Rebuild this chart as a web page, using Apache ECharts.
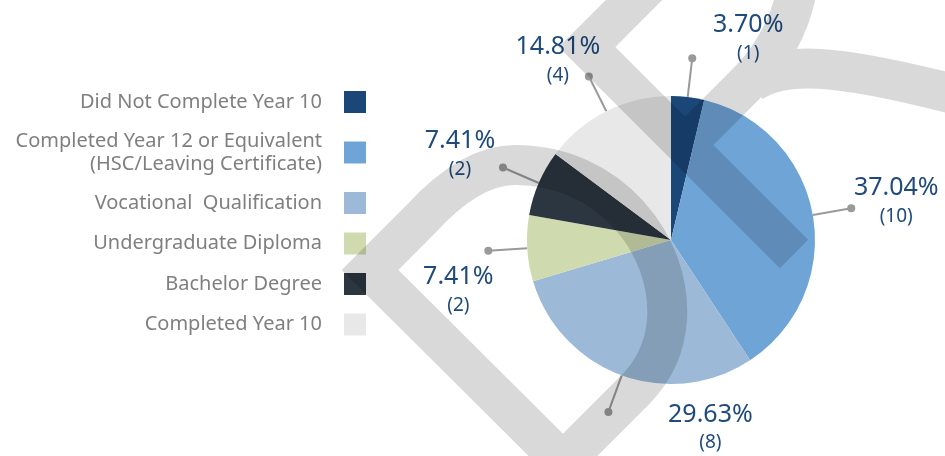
<!DOCTYPE html>
<html>
<head>
<meta charset="utf-8">
<script src="https://cdn.jsdelivr.net/npm/echarts@6/dist/echarts.min.js"></script>
<style>
  html, body { margin: 0; padding: 0; background: #fff; }
  #main { width: 945px; height: 456px; }
</style>
</head>
<body>
<div id="main"></div>
<script>
const categories = [
  'Did Not Complete Year 10',
  'Completed Year 12 or Equivalent\n(HSC/Leaving Certificate)',
  'Vocational  Qualification',
  'Undergraduate Diploma',
  'Bachelor Degree',
  'Completed Year 10'
]
const counts = [1, 10, 8, 2, 2, 4]
const colors = ['#1b4678', '#6fa4d7', '#9cbad8', '#cfdbae', '#2c3640', '#e8e8e8']

const FONT = "'Noto Sans', sans-serif"
const LABEL_COLOR = '#1f4a7c'
const LINE_COLOR = '#9a9a9a'

// where each text block sits relative to the dot at the end of its guide line
const labelOffsets = [[56, -20], [45, -7], [102, 16], [-30, 40], [-43, -13], [-31, -16]]

// the grey logo watermark laid over the chart
const Watermark = echarts.graphic.extendShape({
  shape: {},
  buildPath(ctx) {
    // chevron and diagonal bar
    ctx.moveTo(680, -46)
    ctx.lineTo(587, 47)
    ctx.lineTo(794, 254)
    // rising arm
    ctx.moveTo(688, 142)
    ctx.lineTo(745, 85)
    ctx.quadraticCurveTo(800, 30, 800, -45)
    // sweep to the right, starting inside the arm
    ctx.moveTo(752, 82)
    ctx.bezierCurveTo(785, 62, 830, 62, 965, 97)
    // loop on the left
    ctx.moveTo(370, 270)
    ctx.lineTo(420, 220)
    ctx.quadraticCurveTo(470, 165, 515, 165)
    ctx.bezierCurveTo(610, 165, 672, 245, 667, 320)
    ctx.quadraticCurveTo(664, 360, 636, 389)
    ctx.lineTo(563, 462)
    ctx.closePath()
  }
})
echarts.graphic.registerShape('watermark', Watermark)

const chart = echarts.init(document.getElementById('main'))

const base = {
  type: 'pie',
  center: [671, 240],
  radius: 144,
  startAngle: 90,
  avoidLabelOverlap: false,
  animation: false,
  emphasis: { disabled: true }
}

chart.setOption({
  animation: false,
  legend: {
    orient: 'vertical',
    right: 579,
    top: 89,
    padding: 0,
    align: 'right',
    icon: 'rect',
    itemWidth: 22,
    itemHeight: 22,
    itemGap: 14.5,
    selectedMode: false,
    textStyle: {
      color: '#7f7f7f',
      fontSize: 20,
      lineHeight: 26,
      fontFamily: FONT,
      padding: [0, 17, 0, 0]
    },
    data: categories.map((name, i) => (i === 1 ? { name, textStyle: { lineHeight: 23 } } : name))
  },
  graphic: [{
    type: 'watermark',
    z: 100,
    silent: true,
    style: { fill: 'none', stroke: 'rgba(0,0,0,0.15)', lineWidth: 40, lineJoin: 'miter' }
  }],
  series: [
    {
      ...base,
      name: 'Education',
      data: categories.map((name, i) => ({ name, value: counts[i], itemStyle: { color: colors[i] } })),
      itemStyle: { borderWidth: 0 },
      label: {
        show: true,
        position: 'outside',
        formatter: '{dot|}',
        distanceToLabelLine: -4,
        rich: { dot: { width: 8, height: 8, borderRadius: 4, backgroundColor: LINE_COLOR } }
      },
      labelLine: { show: true, length: 39, length2: 0, lineStyle: { color: LINE_COLOR, width: 2 } }
    },
    {
      ...base,
      name: 'Labels',
      silent: true,
      data: counts.map(v => ({ value: v })),
      itemStyle: { color: 'rgba(0,0,0,0)', borderWidth: 0 },
      label: {
        show: true,
        position: 'outside',
        distanceToLabelLine: 0,
        formatter: p => `{p|${p.percent.toFixed(2)}%}\n{n|(${p.value})}`,
        rich: {
          p: { fontSize: 25, lineHeight: 30, color: LABEL_COLOR, fontFamily: FONT, align: 'center' },
          n: { fontSize: 19, lineHeight: 27, color: LABEL_COLOR, fontFamily: FONT, align: 'center' }
        }
      },
      labelLine: { show: false, length: 39, length2: 0 },
      labelLayout: p => ({
        dx: labelOffsets[p.dataIndex][0],
        dy: labelOffsets[p.dataIndex][1],
        align: 'center',
        verticalAlign: 'middle'
      })
    }
  ]
})
</script>
</body>
</html>
